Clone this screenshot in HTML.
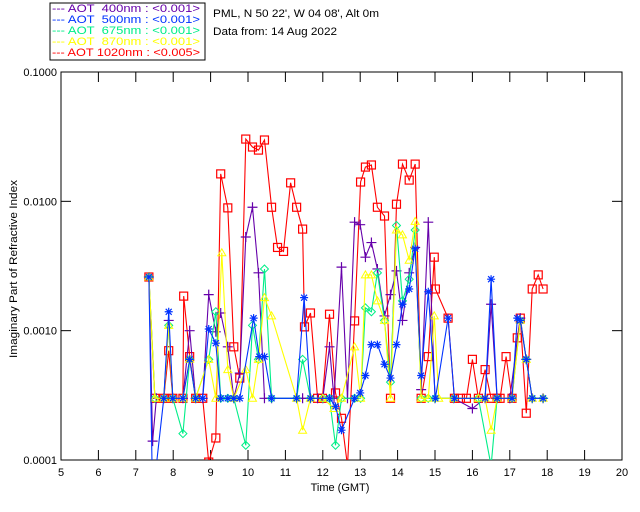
<!DOCTYPE html>
<html><head><meta charset="utf-8"><style>
body{margin:0;background:#fff;}
svg{display:block;font-family:"Liberation Sans",sans-serif;}
</style></head><body>
<svg id="chart" width="640" height="512" xmlns="http://www.w3.org/2000/svg">
<defs><clipPath id="pc"><rect x="61" y="72" width="561" height="388"/></clipPath></defs>
<rect x="50" y="3" width="155" height="57" fill="#fff" stroke="#000" stroke-width="1"/>
<g font-size="11">
<text x="52" y="12" fill="#6600aa" textLength="148" lengthAdjust="spacingAndGlyphs">--- AOT &#160;400nm : &lt;0.001&gt;</text>
<text x="52" y="23" fill="#0033ff" textLength="148" lengthAdjust="spacingAndGlyphs">--- AOT &#160;500nm : &lt;0.001&gt;</text>
<text x="52" y="34" fill="#00ee88" textLength="148" lengthAdjust="spacingAndGlyphs">--- AOT &#160;675nm : &lt;0.001&gt;</text>
<text x="52" y="45" fill="#ffff00" textLength="148" lengthAdjust="spacingAndGlyphs">--- AOT &#160;870nm : &lt;0.001&gt;</text>
<text x="52" y="56" fill="#ff0000" textLength="148" lengthAdjust="spacingAndGlyphs">--- AOT 1020nm : &lt;0.005&gt;</text>
</g>
<text x="213" y="17" font-size="11" textLength="166" lengthAdjust="spacingAndGlyphs">PML, N 50 22', W 04 08', Alt 0m</text>
<text x="213" y="35" font-size="11" textLength="124" lengthAdjust="spacingAndGlyphs">Data from: 14 Aug 2022</text>
<text x="340" y="491" font-size="11" text-anchor="middle">Time (GMT)</text>
<text transform="translate(17,269) rotate(-90)" font-size="11" text-anchor="middle" textLength="178" lengthAdjust="spacingAndGlyphs">Imaginary Part of Refractive Index</text>
<rect x="61" y="72" width="561" height="388" fill="none" stroke="#000"/>
<g id="axes"></g>
<g id="marks" clip-path="url(#pc)"></g>
</svg>
<script>
const xTicks=[5,6,7,8,9,10,11,12,13,14,15,16,17,18,19,20];
const yTickLabels=["0.1000","0.0100","0.0010","0.0001"];
const yTickValues=[0.1,0.01,0.001,0.0001];
const t1020=[7.35,7.51,7.75,7.88,7.99,8.26,8.28,8.44,8.60,8.79,8.95,9.14,9.27,9.46,9.62,9.78,9.94,10.12,10.28,10.44,10.63,10.79,10.95,11.14,11.30,11.46,11.51,11.67,11.86,11.99,12.18,12.34,12.50,12.66,12.85,13.01,13.14,13.30,13.46,13.65,13.81,13.97,14.13,14.31,14.47,14.63,14.82,14.98,15.01,15.35,15.52,15.68,15.84,16.00,16.16,16.34,16.50,16.66,16.74,16.90,17.06,17.20,17.28,17.44,17.60,17.76,17.89];
const v1020=[.0026,.0003,.0003,.0007,.0003,.0003,.00185,.00063,.0003,.0003,.0000964,.000148,.0163,.0089,.00075,.00043,.0303,.0263,.0249,.0298,.009,.0044,.0041,.0139,.009,.0061,.00107,.00137,.0003,.0003,.00134,.00033,.00021,.00009,.00119,.0141,.0184,.0191,.009,.0077,.0003,.0095,.0194,.0146,.0194,.0003,.00063,.0037,.0021,.00125,.0003,.0003,.0003,.0006,.0003,.0005,.0003,.0003,.0003,.00063,.0003,.00088,.00125,.00023,.0021,.0027,.0021];
const t400=[7.35,7.45,7.55,7.75,7.88,7.99,8.26,8.44,8.60,8.79,8.95,9.14,9.27,9.46,9.62,9.78,9.94,10.12,10.28,10.44,10.63,11.30,11.46,11.67,11.86,12.0,12.18,12.3,12.5,12.66,12.85,13.0,13.14,13.3,13.46,13.65,13.81,13.97,14.13,14.31,14.47,14.63,14.82,15.0,15.5,16.0,16.34,16.5,16.66,17.0,17.28,17.44,17.6,17.89];
const v400=[.0026,.00014,.0003,.0003,.0012,.0003,.0003,.0010,.0003,.0003,.0019,.00098,.00137,.00075,.0003,.00047,.0053,.009,.0028,.0003,.0003,.0003,.0003,.0003,.0003,.0003,.00075,.0003,.0031,.0003,.0069,.0066,.0037,.0048,.003,.0013,.0019,.0029,.0012,.0028,.0044,.00035,.0069,.0003,.0003,.00025,.0003,.0016,.0003,.0003,.00125,.0006,.0003,.0003];
const t500=[7.35,7.45,7.75,7.88,7.99,8.26,8.44,8.60,8.79,8.95,9.14,9.27,9.46,9.62,9.78,10.15,10.30,10.44,10.63,11.30,11.50,11.67,12.18,12.34,12.50,12.85,13.0,13.14,13.30,13.46,13.65,13.81,13.97,14.13,14.31,14.47,14.63,14.82,15.01,15.35,15.52,16.34,16.5,16.66,17.06,17.20,17.28,17.44,17.6,17.89];
const v500=[.0026,.00005,.0003,.0014,.0003,.0003,.0006,.0003,.0003,.00103,.0008,.0003,.0003,.0003,.0003,.00125,.00063,.00063,.0003,.0003,.0018,.0003,.0003,.00026,.00017,.0003,.00033,.00045,.00078,.00078,.00055,.00043,.00078,.0016,.0021,.0043,.00045,.002,.0003,.00125,.0003,.0003,.0025,.0003,.0003,.00125,.0012,.0006,.0003,.0003];
const t675=[7.35,7.51,7.75,7.88,7.99,8.26,8.44,8.60,8.95,9.14,9.27,9.46,9.62,9.94,10.12,10.28,10.44,10.63,11.30,11.46,11.67,12.0,12.18,12.34,12.5,12.85,13.01,13.14,13.30,13.46,13.65,13.81,13.97,14.13,14.31,14.47,14.63,14.82,15.0,15.5,16.16,16.5,16.66,17.06,17.28,17.44,17.6,17.89];
const v675=[.0026,.0003,.0003,.0011,.0003,.00016,.0006,.0003,.0006,.0014,.0003,.0003,.0003,.00013,.0011,.0006,.003,.0003,.0003,.0006,.0003,.0003,.0003,.00013,.0003,.0003,.0003,.0015,.0014,.0028,.0012,.0004,.0065,.0017,.0025,.006,.0003,.0003,.0003,.0003,.0003,.00009,.0003,.0003,.0012,.0006,.0003,.0003];
const t870=[7.35,7.51,7.75,7.88,7.99,8.26,8.44,8.60,8.95,9.14,9.30,9.46,9.62,9.94,10.12,10.28,10.44,10.63,11.30,11.46,11.67,12.0,12.3,12.5,12.85,13.01,13.14,13.30,13.46,13.65,13.81,13.97,14.13,14.31,14.47,14.63,14.82,14.98,15.1,15.5,16.16,16.34,16.5,16.66,17.06,17.28,17.44,17.6,17.89];
const v870=[.0026,.0003,.0003,.0011,.0003,.0003,.0006,.0003,.0006,.0003,.004,.0005,.0003,.0005,.0003,.0006,.0018,.0013,.0003,.00017,.0003,.0003,.00025,.0003,.00075,.0003,.0027,.0027,.0017,.0012,.0003,.006,.0055,.0035,.007,.0003,.0003,.0013,.0003,.0003,.0003,.0003,.00017,.0003,.0003,.0012,.0006,.0003,.0003];

const NS="http://www.w3.org/2000/svg";
const X0=61,X1=622,Y0=460,Y1=72;
function xs(t){return X0+(t-5)/(20-5)*(X1-X0);}
function ys(v){return Y0-(Math.log10(v)+4)/3*(Y0-Y1);}
function mk(tag,at,parent){const e=document.createElementNS(NS,tag);for(const k in at)e.setAttribute(k,at[k]);parent.appendChild(e);return e;}
const axes=document.getElementById('axes'),marks=document.getElementById('marks');
xTicks.forEach(t=>{const x=xs(t);
 const a=mk('line',{x1:x,x2:x,y1:Y0,y2:Y0-10,stroke:'#000'},axes);
 
 
 mk('line',{x1:x,x2:x,y1:Y1,y2:Y1+10,stroke:'#000'},axes);
 const tx=mk('text',{x:x,y:476,'font-size':11,'text-anchor':'middle'},axes);tx.textContent=t;
 
 
});
yTickValues.forEach((v,i)=>{const y=ys(v);
 mk('line',{x1:X0,x2:X0+10,y1:y,y2:y,stroke:'#000'},axes);
 mk('line',{x1:X1,x2:X1-10,y1:y,y2:y,stroke:'#000'},axes);
 const tx=mk('text',{x:X0-4,y:y+4,'font-size':11,'text-anchor':'end'},axes);tx.textContent=yTickLabels[i];
 
 
});
function series(ts,vs,color,shape,name){
 const pts=ts.map((t,i)=>xs(t).toFixed(1)+','+ys(vs[i]).toFixed(1)).join(' ');
 const pl=mk('polyline',{points:pts,fill:'none',stroke:color,'stroke-width':1.1},marks);
 
 
 ts.forEach((t,i)=>{const x=xs(t),y=ys(vs[i]);let e;
  if(shape==='sq')e=mk('rect',{x:x-4,y:y-4,width:8,height:8,fill:'none',stroke:color,'stroke-width':1.2},marks);
  else if(shape==='plus')e=mk('path',{d:`M${x-5} ${y}H${x+5}M${x} ${y-5}V${y+5}`,stroke:color,'stroke-width':1.2},marks);
  else if(shape==='star')e=mk('path',{d:`M${x-4} ${y}H${x+4}M${x} ${y-4}V${y+4}M${x-3} ${y-3}L${x+3} ${y+3}M${x-3} ${y+3}L${x+3} ${y-3}`,stroke:color,'stroke-width':1.2},marks);
  else if(shape==='dia')e=mk('path',{d:`M${x} ${y-4}L${x+4} ${y}L${x} ${y+4}L${x-4} ${y}Z`,fill:'none',stroke:color,'stroke-width':1},marks);
  else e=mk('path',{d:`M${x} ${y-4}L${x+4} ${y+3}L${x-4} ${y+3}Z`,fill:'none',stroke:color,'stroke-width':1},marks);
  
  
 });
}
series(t1020,v1020,'#ff0000','sq','aot-1020');
series(t400,v400,'#6600aa','plus','aot-400');
series(t675,v675,'#00ee88','dia','aot-675');
series(t870,v870,'#ffff00','tri','aot-870');
series(t500,v500,'#0033ff','star','aot-500');
</script>
</body></html>
